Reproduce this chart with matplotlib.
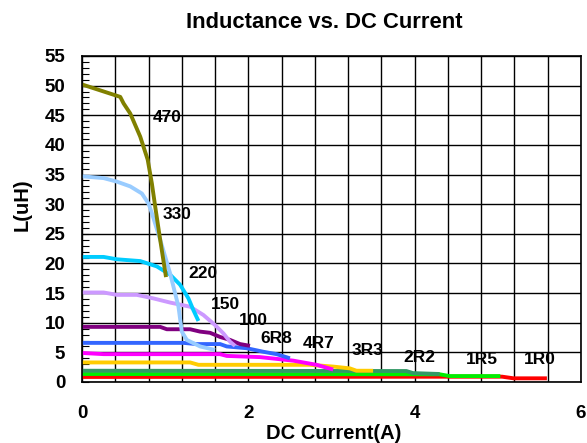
import numpy as np
import matplotlib
matplotlib.use("Agg")
import matplotlib.pyplot as plt
from matplotlib.ticker import MultipleLocator

plt.rcParams['font.family'] = ['Liberation Sans', 'DejaVu Sans']
plt.rcParams['font.weight'] = 'bold'

# inductance curves: (current A, inductance uH)
x_470 = [0, 0.46, 0.50, 0.58, 0.70, 0.79, 0.84, 0.88, 0.94, 1.01]
y_470 = [50.2, 48.1, 47.0, 45.3, 41.4, 37.5, 33.5, 29.6, 24.0, 17.7]

x_330 = [0, 0.26, 0.42, 0.58, 0.72, 0.80, 0.84, 0.94, 1.06, 1.16, 1.20, 1.26, 1.42, 1.60]
y_330 = [34.7, 34.4, 33.8, 33.0, 31.8, 30.1, 28.5, 24.0, 18.3, 12.7, 8.5, 7.1, 6.0, 5.4]

x_220 = [0, 0.26, 0.42, 0.70, 0.90, 1.06, 1.18, 1.28, 1.34, 1.40]
y_220 = [21.1, 21.1, 20.7, 20.4, 19.5, 18.1, 16.4, 14.1, 12.1, 10.3]

x_150 = [0, 0.26, 0.42, 0.66, 0.86, 1.06, 1.30, 1.46, 1.60, 1.70, 1.78, 1.84]
y_150 = [15.1, 15.1, 14.7, 14.7, 14.1, 13.4, 12.7, 11.3, 9.6, 8.2, 6.8, 6.1]

x_100 = [0, 0.94, 1.02, 1.30, 1.42, 1.54, 1.66, 1.78, 1.90, 2.02]
y_100 = [9.3, 9.3, 8.9, 8.9, 8.5, 8.3, 7.6, 7.1, 6.4, 6.1]

x_6r8 = [0, 1.22, 1.38, 1.66, 1.74, 1.98, 2.18, 2.34, 2.50]
y_6r8 = [6.6, 6.6, 6.4, 6.4, 6.0, 5.7, 5.1, 4.7, 4.0]

x_4r7 = [0, 0.26, 1.66, 1.74, 2.14, 2.54, 2.82, 3.02]
y_4r7 = [4.9, 4.7, 4.7, 4.4, 4.2, 3.6, 2.9, 2.1]

x_3r3 = [0, 1.30, 1.40, 2.74, 3.02, 3.22, 3.30, 3.50]
y_3r3 = [3.3, 3.3, 2.9, 2.9, 2.6, 2.3, 1.9, 1.9]

x_2r2 = [0, 3.90, 3.98, 4.30]
y_2r2 = [1.9, 1.85, 1.5, 1.35]

x_1r5 = [0, 4.30, 4.42, 5.03]
y_1r5 = [1.35, 1.3, 1.0, 1.0]

x_1r0 = [0, 5.05, 5.19, 5.59]
y_1r0 = [0.85, 0.9, 0.62, 0.62]

names = ['470', '330', '220', '150', '100', '6R8', '4R7', '3R3', '2R2', '1R5', '1R0']
label_x = [1.03, 1.14, 1.46, 1.73, 2.06, 2.34, 2.84, 3.43, 4.06, 4.81, 5.50]
label_y = [44.7, 28.2, 18.3, 13.0, 10.3, 7.4, 6.5, 5.3, 4.2, 3.8, 3.8]

curves = [(x_470, y_470), (x_330, y_330), (x_220, y_220), (x_150, y_150),
          (x_100, y_100), (x_6r8, y_6r8), (x_4r7, y_4r7), (x_3r3, y_3r3),
          (x_2r2, y_2r2), (x_1r5, y_1r5), (x_1r0, y_1r0)]
colors = ['#808000', '#99ccff', '#00ccff', '#cc99ff', '#800080', '#3366ff',
          '#ff00ff', '#ffcc00', '#339966', '#00ee00', '#ff0000']

fig = plt.figure(figsize=(5.87, 4.43), dpi=100)
ax = fig.add_axes([0.1397, 0.1377, 0.8501, 0.7359])

# draw from bottom up so the big ones sit on top like the original
for (xs, ys), c in zip(curves[::-1], colors[::-1]):
    ax.plot(xs, ys, color=c, lw=2.8, solid_capstyle='butt')

for n, lx, ly in zip(names, label_x, label_y):
    ax.text(lx, ly, n, fontsize=12.5, fontweight='bold', ha='center', va='center')

ax.set_xlim(0, 6)
ax.set_ylim(0, 55)
ax.xaxis.set_major_locator(MultipleLocator(2))
ax.xaxis.set_minor_locator(MultipleLocator(0.4))
ax.yaxis.set_major_locator(MultipleLocator(5))
ax.yaxis.set_minor_locator(MultipleLocator(1))
ax.grid(True, which='major', axis='y', color='black', lw=1.0)
ax.grid(True, which='both', axis='x', color='black', lw=1.0)
ax.tick_params(axis='y', which='both', direction='in', left=True, length=5, width=0.8, pad=12)
ax.tick_params(axis='x', which='both', length=0, pad=16.5)
ax.tick_params(labelsize=13.5)
for lab in ax.get_xticklabels() + ax.get_yticklabels():
    lab.set_fontweight('bold')
for s in ax.spines.values():
    s.set_color('black')
    s.set_linewidth(1.2)

ax.set_xlabel('DC Current(A)', fontsize=14.5, fontweight='bold')
ax.xaxis.set_label_coords(0.505, -0.128)
ax.set_ylabel('L(uH)', fontsize=14.5, fontweight='bold')
ax.yaxis.set_label_coords(-0.100, 0.543)
fig.text(0.552, 0.950, 'Inductance vs. DC Current', fontsize=15.8, fontweight='bold',
         ha='center', va='center')

fig.savefig('out.png', dpi=100)
